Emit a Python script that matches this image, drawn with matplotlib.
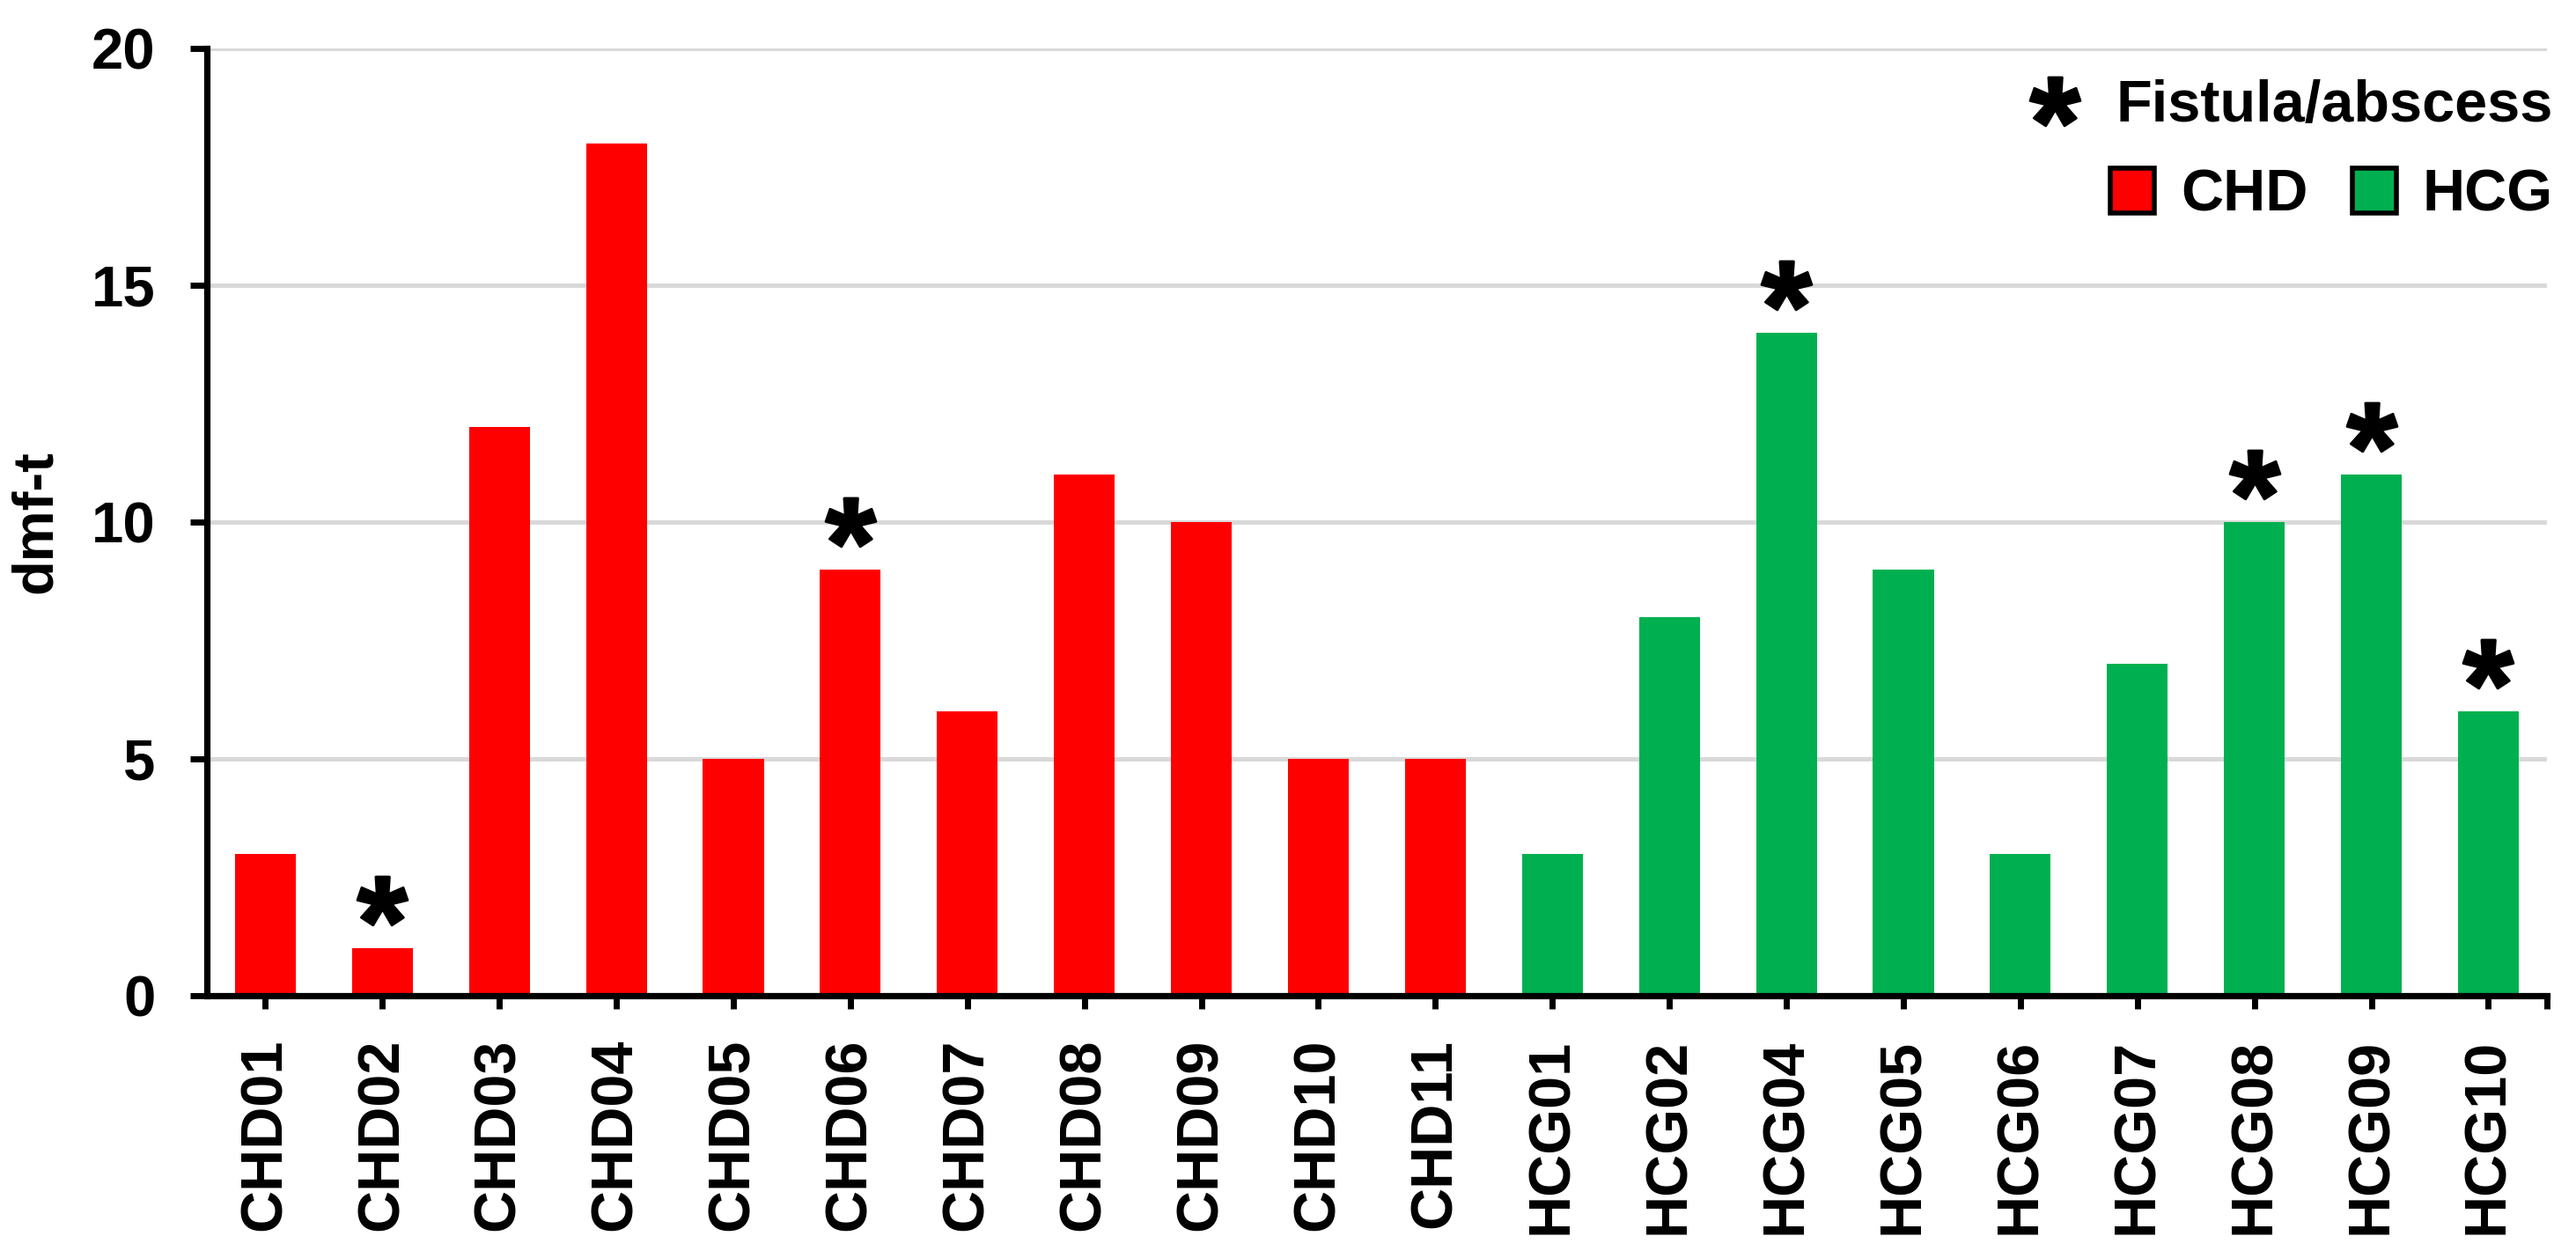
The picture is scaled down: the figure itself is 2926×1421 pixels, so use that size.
import matplotlib
matplotlib.use("Agg")
import matplotlib.pyplot as plt
from matplotlib.patches import Patch
from matplotlib.lines import Line2D

# data
chd_ids = ["CHD01", "CHD02", "CHD03", "CHD04", "CHD05", "CHD06",
           "CHD07", "CHD08", "CHD09", "CHD10", "CHD11"]
chd_dmft = [3, 1, 12, 18, 5, 9, 6, 11, 10, 5, 5]
hcg_ids = ["HCG01", "HCG02", "HCG04", "HCG05", "HCG06", "HCG07",
           "HCG08", "HCG09", "HCG10"]
hcg_dmft = [3, 8, 14, 9, 3, 7, 10, 11, 6]
fistula = ["CHD02", "CHD06", "HCG04", "HCG08", "HCG09", "HCG10"]

RED = "#FF0000"
GREEN = "#00B050"
FS = 23.5

plt.rcParams["font.family"] = ["Liberation Sans", "DejaVu Sans"]
plt.rcParams["font.weight"] = "bold"
plt.rcParams["mathtext.fontset"] = "custom"
plt.rcParams["mathtext.bf"] = "Liberation Sans:bold"

labels = chd_ids + hcg_ids
values = chd_dmft + hcg_dmft
colors = [RED] * len(chd_ids) + [GREEN] * len(hcg_ids)
x = list(range(len(labels)))

fig = plt.figure(figsize=(14.63, 7.105), dpi=200)
ax = fig.add_axes([0.0803, 0.2041, 0.9084, 0.7572])

ax.bar(x, values, width=0.52, color=colors, zorder=2)

# asterisks above bars with fistula/abscess
ast = r"$\mathbf{*}$"
for i, lab in enumerate(labels):
    if lab in fistula:
        ax.plot(x[i], values[i] + 1.0, marker=ast, markersize=20.5,
                color="black", linestyle="none", zorder=3)

ax.set_xlim(-0.5, len(labels) - 0.5)
ax.set_ylim(0, 20)
ax.set_yticks([0, 5, 10, 15, 20])
ax.set_xticks(x)
ax.set_xticklabels(labels, rotation=90, fontsize=24, fontweight="bold")
ax.set_xticks([len(labels) - 0.5], minor=True)
ax.tick_params(axis="y", labelsize=FS, width=2.5, length=7, direction="out", pad=14)
ax.tick_params(axis="x", which="both", width=2.5, length=5.5, direction="out", pad=12)
for t in ax.get_yticklabels():
    t.set_fontweight("bold")

ax.set_ylabel("dmf-t", fontsize=FS, fontweight="bold", labelpad=12)

ax.grid(axis="y", color="#D9D9D9", linewidth=1.8, zorder=0)
ax.set_axisbelow(True)
for side in ["top", "right"]:
    ax.spines[side].set_visible(False)
for side in ["left", "bottom"]:
    ax.spines[side].set_linewidth(2.6)

# legends
h1 = [Line2D([], [], marker=ast, markersize=20.5, color="black", linestyle="none")]
leg1 = fig.legend(h1, ["Fistula/abscess"], loc="center right",
                  bbox_to_anchor=(0.9911, 0.9148), frameon=False,
                  prop={"size": 24, "weight": "bold"}, handlelength=1.0,
                  handletextpad=0.55, borderaxespad=0, borderpad=0)
h2 = [Patch(facecolor=RED, edgecolor="black", linewidth=2.0),
      Patch(facecolor=GREEN, edgecolor="black", linewidth=2.0)]
leg2 = fig.legend(h2, ["CHD", "HCG"], loc="center right", ncol=2,
                  bbox_to_anchor=(0.9911, 0.8438), frameon=False,
                  prop={"size": 24, "weight": "bold"}, handlelength=0.75,
                  handleheight=0.8, handletextpad=0.45, columnspacing=0.75,
                  borderaxespad=0, borderpad=0)

fig.savefig("out.png", dpi=200)
